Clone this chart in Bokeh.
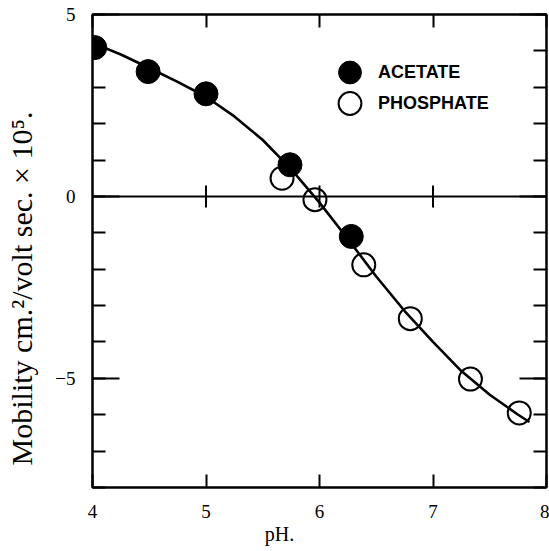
import numpy as np
from bokeh.plotting import figure
from bokeh.models import Range1d, LinearAxis, FixedTicker, Span, Legend, LegendItem
from bokeh.embed import file_html
from bokeh.resources import INLINE

# ---- data ----
acetate_ph = [4.02, 4.49, 5.00, 5.74, 6.28]
acetate_mob = [4.09, 3.43, 2.82, 0.87, -1.10]

phosphate_ph = [5.67, 5.96, 6.39, 6.80, 7.33, 7.76]
phosphate_mob = [0.50, -0.09, -1.88, -3.36, -5.02, -5.95]

curve_ph = [4.00, 4.25, 4.50, 4.75, 5.00, 5.25, 5.50, 5.75, 6.00, 6.25,
            6.50, 6.75, 7.00, 7.25, 7.50, 7.75, 7.85]
curve_mob = [4.22, 3.90, 3.53, 3.15, 2.74, 2.20, 1.55, 0.75, -0.17, -1.17,
             -2.20, -3.15, -4.00, -4.80, -5.45, -6.00, -6.20]

x_ticks = [4, 5, 6, 7, 8]
x_tick_labels = ["4", "5", "6", "7", "8"]
y_major = [-5, 0, 5]
y_major_labels = ["\u22125", "0", "5"]
y_minor = [-8, -7, -6, -5, -4, -3, -2, -1, 0, 1, 2, 3, 4, 5]
zero_cross_ticks = [5, 6, 7]

NBSP = "\u00a0"
y_title = "Mobility cm.\u00b2/volt sec. \u00d7 10\u2075."
x_title = "pH."
legend_labels = ["ACETATE", "PHOSPHATE"]

SERIF = "Liberation Serif"

p = figure(width=549, height=551, x_range=Range1d(4, 8), y_range=Range1d(-8, 5),
           output_backend="svg", toolbar_location=None,
           x_axis_location=None, y_axis_location=None,
           min_border_left=92, min_border_right=3, min_border_top=14, min_border_bottom=64)
p.xgrid.grid_line_color = None
p.ygrid.grid_line_color = None
p.outline_line_color = "black"
p.outline_line_width = 2
p.background_fill_color = "white"
p.border_fill_color = "white"


def make_axis(ticker, show_labels, tick_in, minor_in, standoff, overrides=None):
    ax = LinearAxis(ticker=ticker, axis_line_width=2, axis_line_color="black",
                    major_tick_in=tick_in, major_tick_out=0,
                    minor_tick_in=minor_in, minor_tick_out=0,
                    major_tick_line_width=2, minor_tick_line_width=2,
                    major_tick_line_color="black", minor_tick_line_color="black",
                    major_label_standoff=standoff,
                    major_label_text_font=SERIF,
                    major_label_text_font_size="19px",
                    major_label_text_color="black" if show_labels else None)
    if overrides:
        ax.major_label_overrides = overrides
    return ax


xt = FixedTicker(ticks=x_ticks, minor_ticks=[])
yt = FixedTicker(ticks=y_major, minor_ticks=y_minor)

bottom = make_axis(xt, True, 13, 0, 17, dict(zip(x_ticks, x_tick_labels)))
bottom.axis_label = x_title + NBSP * 16
bottom.axis_label_text_font = SERIF
bottom.axis_label_text_font_style = "normal"
bottom.axis_label_text_font_size = "20px"
bottom.axis_label_text_color = "black"
bottom.axis_label_standoff = 2

top = make_axis(xt, False, 13, 0, 0)

left = make_axis(yt, True, 27, 13, 17, dict(zip(y_major, y_major_labels)))
left.axis_label = y_title + NBSP * 10
left.axis_label_text_font = SERIF
left.axis_label_text_font_style = "normal"
left.axis_label_text_font_size = "30px"
left.axis_label_text_color = "black"
left.axis_label_standoff = 14

right = make_axis(yt, False, 27, 13, 0)
p.add_layout(bottom, "below")
p.add_layout(top, "above")
p.add_layout(left, "left")
p.add_layout(right, "right")

# zero line with crossing ticks
p.add_layout(Span(location=0, dimension="width", line_color="black", line_width=2))
p.scatter(zero_cross_ticks, [0] * len(zero_cross_ticks), marker="dash", angle=np.pi / 2,
          size=22, line_color="black", line_width=2)

# fitted curve
p.line(curve_ph, curve_mob, line_color="black", line_width=2.6)

r_ph = p.scatter(phosphate_ph, phosphate_mob, marker="circle", size=23,
                 fill_color=None, line_color="black", line_width=2)
r_ac = p.scatter(acetate_ph, acetate_mob, marker="circle", size=24,
                 fill_color="black", line_color="black", line_width=1)


def make_legend(label, renderer, loc):
    return Legend(items=[LegendItem(label=label, renderers=[renderer])],
                  location=loc, glyph_width=57, glyph_height=60,
                  label_standoff=0, padding=0, margin=0,
                  label_text_font="Liberation Sans", label_text_font_style="bold",
                  label_text_font_size="18px", label_text_color="black",
                  background_fill_alpha=0, border_line_alpha=0)


p.add_layout(make_legend(legend_labels[0], r_ac, (229, 385)))
p.add_layout(make_legend(legend_labels[1], r_ph, (229, 354)))

open("out.html", "w").write(file_html(p, INLINE))
